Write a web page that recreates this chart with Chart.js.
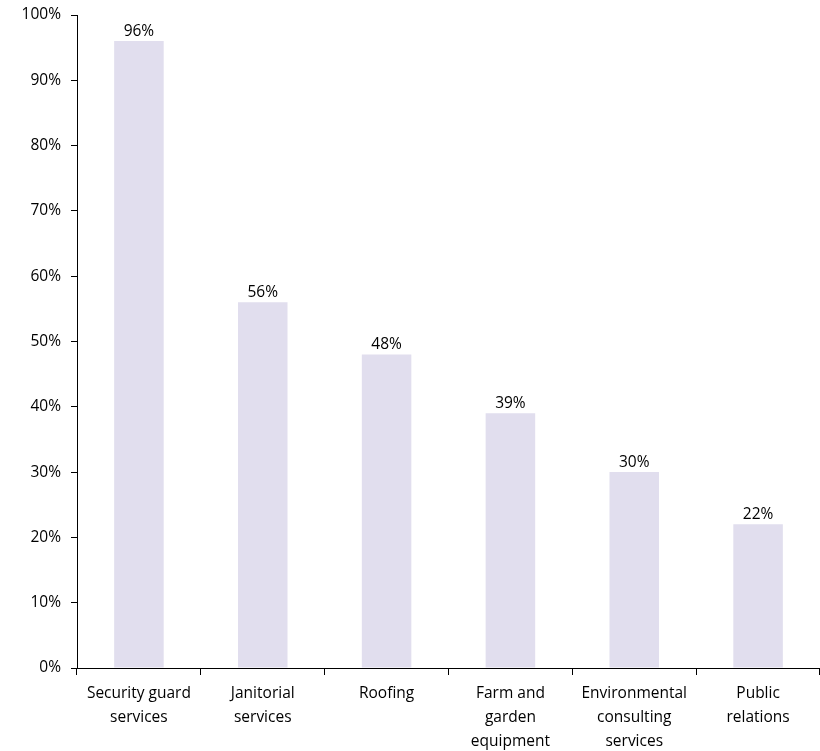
<!DOCTYPE html>
<html>
<head>
<meta charset="utf-8">
<script src="https://cdn.jsdelivr.net/npm/chart.js@4"></script>
<style>
  html, body { margin: 0; padding: 0; background: #fff; }
  #wrap { width: 820px; height: 751px; }
</style>
</head>
<body>
<div id="wrap"><canvas id="myChart" width="820" height="751"></canvas></div>
<script>
const categories = [
    ["Security guard", "services"],
    ["Janitorial", "services"],
    "Roofing",
    ["Farm and", "garden", "equipment"],
    ["Environmental", "consulting", "services"],
    ["Public", "relations"]
];
const shares = [96, 56, 48, 39, 30, 22];
const yTicks = [0, 10, 20, 30, 40, 50, 60, 70, 80, 90, 100];

const fontFamily = "'Open Sans', Lato, sans-serif";

// draws the percentage above each bar
const valueLabels = {
    id: 'valueLabels',
    afterDatasetsDraw(chart) {
        const ctx = chart.ctx;
        const meta = chart.getDatasetMeta(0);
        ctx.save();
        ctx.font = "15.5px " + fontFamily;
        ctx.fillStyle = '#000';
        ctx.textAlign = 'center';
        ctx.textBaseline = 'bottom';
        meta.data.forEach((bar, i) => {
            ctx.fillText(shares[i] + '%', bar.x, bar.y - 2);
        });
        ctx.restore();
    }
};

const ctx = document.getElementById('myChart').getContext('2d');
new Chart(ctx, {
    type: 'bar',
    data: {
        labels: categories,
        datasets: [{
            data: shares,
            backgroundColor: '#E1DEEE',
            borderWidth: 0,
            barPercentage: 0.4,
            categoryPercentage: 1
        }]
    },
    options: {
        responsive: false,
        animation: false,
        layout: { padding: { top: 15, right: 0, left: 0, bottom: 0 } },
        plugins: {
            legend: { display: false },
            tooltip: { enabled: false }
        },
        scales: {
            x: {
                grid: {
                    drawOnChartArea: false,
                    color: '#000',
                    tickLength: 7,
                    offset: true
                },
                border: { color: '#000', width: 1 },
                ticks: {
                    color: '#000',
                    font: { family: fontFamily, size: 15.5, lineHeight: 1.55 },
                    padding: 7,
                    maxRotation: 0,
                    autoSkip: false
                },
                afterFit(scale) { scale.height = 83; }
            },
            y: {
                min: 0,
                max: 100,
                afterBuildTicks(scale) {
                    scale.ticks = yTicks.map(v => ({ value: v }));
                },
                grid: {
                    drawOnChartArea: false,
                    color: '#000',
                    tickLength: 6
                },
                border: { color: '#000', width: 1 },
                ticks: {
                    color: '#000',
                    font: { family: fontFamily, size: 15.5 },
                    padding: 10,
                    callback: v => v + '%'
                },
                afterFit(scale) {
                    scale.width = 77;
                    scale.paddingTop = 0;
                    scale.paddingBottom = 0;
                }
            }
        }
    },
    plugins: [valueLabels]
});
</script>
</body>
</html>
